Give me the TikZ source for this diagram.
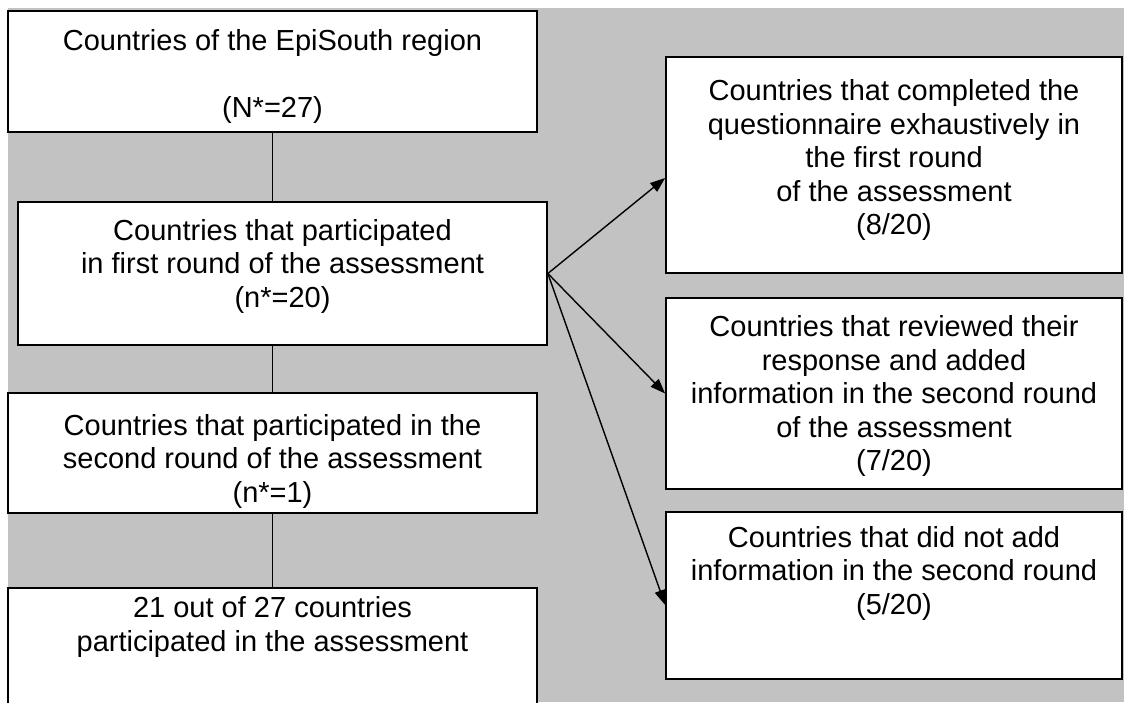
\documentclass[tikz,border=0pt]{standalone}
\usepackage{fontspec}
\setmainfont{Liberation Sans}
\usetikzlibrary{arrows.meta,positioning}

\definecolor{bggray}{RGB}{194,194,194}

\begin{document}
\begin{tikzpicture}[x=1pt,y=-1pt,>={Triangle[length=15pt,width=11pt]},
	box/.style={draw, line width=1.7pt, fill=white, inner sep=0pt},
	txt/.style={align=center, inner sep=0pt, font=\fontsize{29}{33.5}\selectfont},
	link/.style={line width=1.4pt}]

	% page and shaded background
	\clip (0,0) rectangle (1125,702);
	\fill[bggray] (8,8) rectangle (1124,702);

	% sizes of the boxes
	\def\wl{529}  % left column
	\def\wr{456}  % right column

	% left column
	\node[box, minimum width=\wl, minimum height=121] (region) at (272.5,71.5) {};
	\node[box, minimum width=\wl, minimum height=143] (first) at (282.5,273.5) {};
	\node[box, minimum width=\wl, minimum height=120] (second) at (272.5,453) {};
	\node[box, minimum width=\wl, minimum height=132] (total) at (272.5,654) {};

	% right column
	\node[box, minimum width=\wr, minimum height=216] (complete) at (894,165) {};
	\node[box, minimum width=\wr, minimum height=191] (reviewed) at (894,393.5) {};
	\node[box, minimum width=\wr, minimum height=167] (noadd) at (894,595.5) {};

	% texts
	\node[txt] (regiontxt) at (272.5,76) {Countries of the EpiSouth region\\[33.5pt](N*=27)};
	\node[txt] (firsttxt) at (282.5,266) {Countries that participated\\in first round of the assessment\\(n*=20)};
	\node[txt] (secondtxt) at (272.5,461) {Countries that participated in the\\second round of the assessment\\(n*=1)};
	\node[txt] (totaltxt) at (272.5,627) {21 out of 27 countries\\participated in the assessment};

	\node[txt] (completetxt) at (894,160) {Countries that completed the\\questionnaire exhaustively in\\the first round\\of the assessment\\(8/20)};
	\node[txt] (reviewedtxt) at (894,396) {Countries that reviewed their\\response and added\\information in the second round\\of the assessment\\(7/20)};
	\node[txt] (noaddtxt) at (894,573) {Countries that did not add\\information in the second round\\(5/20)};

	% vertical links
	\draw[link] (region.south) -- (region.south |- first.north);
	\draw[link] (region.south |- first.south) -- (second.north);
	\draw[link] (second.south) -- (total.north);

	% arrows to the right column
	\draw[link,->] (first.east) -- ([yshift=-13pt]complete.west);
	\draw[link,->] (first.east) -- (reviewed.west);
	\draw[link,->] (first.east) -- ([yshift=-9.5pt]noadd.west);

\end{tikzpicture}
\end{document}
